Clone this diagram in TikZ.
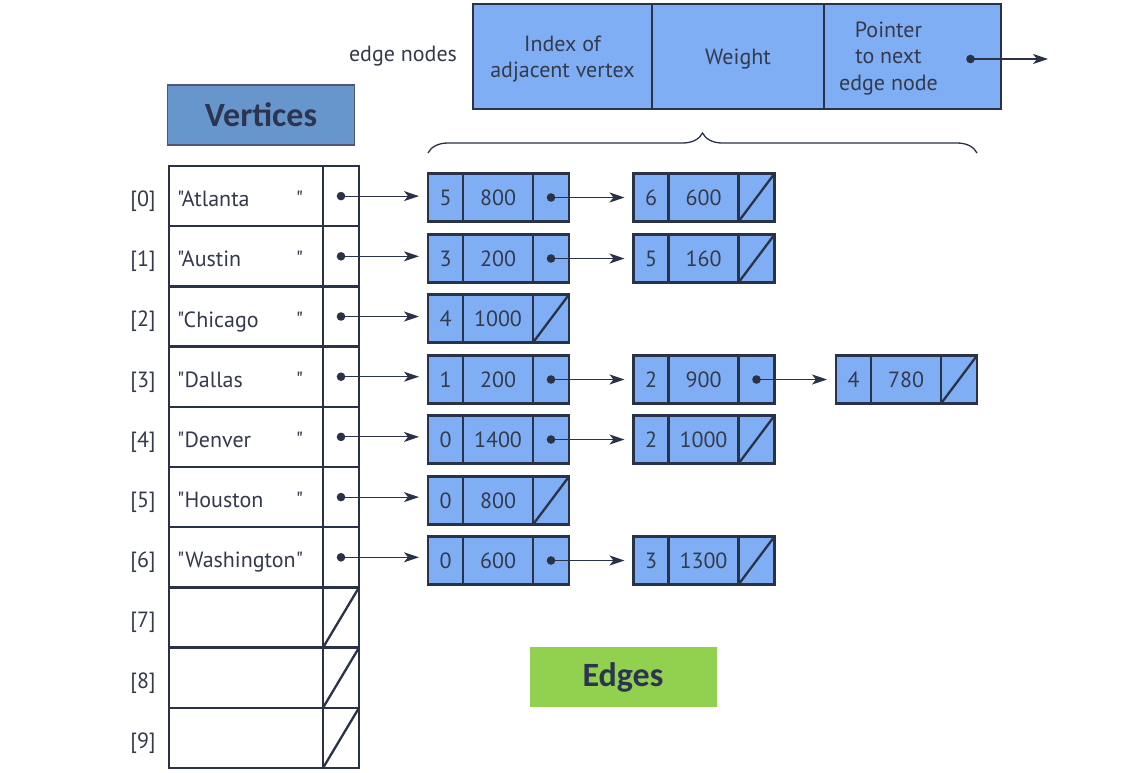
\documentclass[tikz,border=0pt]{standalone}
\usepackage{fontspec}
\setmainfont{PT Sans}[Ligatures=TeXOff]
\newfontfamily\labelfont{Carlito}
\usetikzlibrary{arrows.meta,decorations.pathreplacing,calc}
\definecolor{ink}{RGB}{42,50,72}
\definecolor{efill}{RGB}{127,174,245}
\definecolor{vfill}{RGB}{103,150,205}
\definecolor{vborder}{RGB}{78,88,118}
\definecolor{gfill}{RGB}{146,208,80}
\definecolor{txt}{RGB}{52,58,76}
\definecolor{lbltxt}{RGB}{44,52,80}
\newcommand\dq{"}
\tikzset{
  every node/.style={text=txt, font=\fontsize{22}{27}\selectfont},
  ecell/.style={draw=ink, fill=efill, line width=2.7pt, minimum height=48pt, inner sep=0pt, outer sep=0pt},
  tcell/.style={draw=ink, fill=efill, line width=2.7pt, minimum height=105pt, inner sep=0pt, outer sep=0pt, anchor=north west},
  ttext/.style={align=center, inner sep=0pt, font=\fontsize{22}{26.5}\selectfont},
  vcell/.style={draw=ink, line width=2.4pt, minimum height=60.2pt, inner sep=0pt, outer sep=0pt, anchor=north west},
  vname/.style={anchor=base west, inner sep=0pt},
  idxlabel/.style={anchor=base, inner sep=0pt},
  ptr/.style={draw=ink, line width=1.1pt, -{Stealth[length=15pt,width=10pt,inset=4pt]}, shorten >=9pt},
  ptrfree/.style={draw=ink, line width=1.1pt, -{Stealth[length=15pt,width=10pt,inset=4pt]}},
  slash/.style={draw=ink, line width=2.3pt},
  bigbrace/.style={draw=ink, line width=1.3pt, decorate, decoration={brace, amplitude=20pt}},
  titlebox/.style={minimum width=187pt, minimum height=60pt, inner sep=0pt, text=lbltxt, font=\labelfont\bfseries\fontsize{34}{38}\selectfont},
}
\newcommand\mkedge[5]{%
  \node[ecell, minimum width=35pt, anchor=west] (#1a) at (#2,#3) {#4};
  \node[ecell, minimum width=70pt, anchor=west] (#1b) at (#1a.east) {#5};
  \node[ecell, minimum width=36pt, anchor=west] (#1c) at (#1b.east) {};}
\newcommand\mknull[1]{\draw[slash] (#1.south west) -- (#1.north east);}
\newcommand\mkptr[2]{%
  \fill[ink] (#1.center) circle (4.3pt);
  \draw[ptr] (#1.center) -- (#1.center -| #2.west);}
\begin{document}
\begin{tikzpicture}[x=1pt,y=-1pt]
\fill[white] (0,0) rectangle (1141,772);
\useasboundingbox (0,0) rectangle (1141,772);

% ---- header: edge node layout ----
\node[inner sep=0pt] (lbl) at (403,56) {edge nodes};
\node[tcell, minimum width=179pt] (ta) at (473,4) {};
\node[tcell, minimum width=172pt] (tb) at (ta.north east) {};
\node[tcell, minimum width=177pt] (tc) at (tb.north east) {};
\node[ttext] (tat) at ([yshift=-2.5pt]ta.center) {Index of\\adjacent vertex};
\node[ttext] (tbt) at ([yshift=-2.5pt]tb.center) {Weight};
\node[ttext] (tct) at ([xshift=-24pt,yshift=-2pt]tc.center) {Pointer\\to next\\edge node};
\coordinate (tdot) at ([xshift=58pt,yshift=-2.5pt]tc.center);
\coordinate (tnext) at (1048,59);
\fill[ink] (tdot) circle (4.3pt);
\draw[ptrfree] (tdot) -- (tnext);
\coordinate (bl) at (428,153);
\coordinate (br) at (977,153);
\draw[bigbrace] (bl) -- (br);

% ---- title boxes ----
\node[titlebox, draw=vborder, line width=1.8pt, fill=vfill] (vert) at (261,115) {Vertices};
\node[titlebox, fill=gfill] (edg) at (623,677) {Edges};

% ---- vertex table ----
\foreach \i in {0,...,9} {
  \node[vcell, minimum width=154pt] (vn\i) at (169,{166+60.2*\i}) {};
  \node[vcell, minimum width=36pt] (vp\i) at (323,{166+60.2*\i}) {};
  \node[idxlabel] (ix\i) at (143,{206.5+60.2*\i}) {[\i]};
}
\foreach \i/\nm in {0/Atlanta,1/Austin,2/Chicago,3/Dallas,4/Denver,5/Houston,6/Washington} {
  \node[vname] (vt\i) at ([xshift=8pt,yshift=-10.5pt]vn\i.west) {\makebox[126pt]{\dq\nm\hfill\dq}};
}
\foreach \i in {7,8,9} { \mknull{vp\i} }

% ---- edge nodes ----
\mkedge{e00}{428}{197.5}{5}{800}
\mkedge{e01}{633.5}{197.5}{6}{600}
\mkedge{e10}{428}{258.5}{3}{200}
\mkedge{e11}{633.5}{258.5}{5}{160}
\mkedge{e20}{428}{318.5}{4}{1000}
\mkedge{e30}{428}{379.5}{1}{200}
\mkedge{e31}{633.5}{379.5}{2}{900}
\mkedge{e32}{836}{379.5}{4}{780}
\mkedge{e40}{428}{439.5}{0}{1400}
\mkedge{e41}{633.5}{439.5}{2}{1000}
\mkedge{e50}{428}{500.5}{0}{800}
\mkedge{e60}{428}{560.5}{0}{600}
\mkedge{e61}{633.5}{560.5}{3}{1300}

\mkptr{vp0}{e00a}
\mkptr{vp1}{e10a}
\mkptr{vp2}{e20a}
\mkptr{vp3}{e30a}
\mkptr{vp4}{e40a}
\mkptr{vp5}{e50a}
\mkptr{vp6}{e60a}

\mkptr{e00c}{e01a} \mknull{e01c}
\mkptr{e10c}{e11a} \mknull{e11c}
\mknull{e20c}
\mkptr{e30c}{e31a} \mkptr{e31c}{e32a} \mknull{e32c}
\mkptr{e40c}{e41a} \mknull{e41c}
\mknull{e50c}
\mkptr{e60c}{e61a} \mknull{e61c}
\end{tikzpicture}
\end{document}
